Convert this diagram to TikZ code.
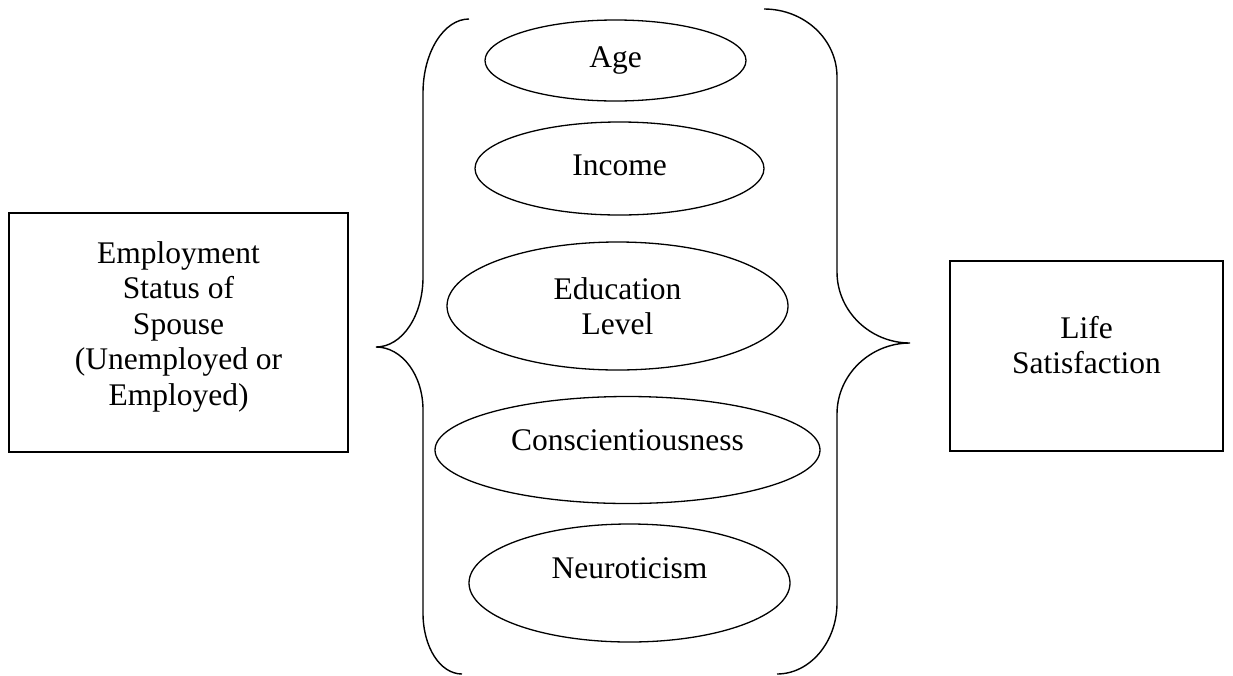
\documentclass[tikz,border=0pt]{standalone}
\usepackage{fontspec}
\setmainfont{Liberation Serif}
\usetikzlibrary{shapes.geometric}

\begin{document}
\begin{tikzpicture}[x=1pt,y=-1pt,
    factorEllipse/.style={draw, ellipse, line width=1.3pt, inner sep=0pt},
    varBox/.style={draw, rectangle, line width=1.6pt, inner sep=0pt},
    braceLine/.style={line width=1.4pt},
    labelText/.style={align=center, font=\fontsize{31.5}{35.5}\selectfont}]
      % Every length is in pixels of the figure, y grows downwards
      \def\braceL{423} \def\braceR{837}
      \def\tipL{376} \def\tipR{910}
      \useasboundingbox (0,0) rectangle (1233,675);

      % The two boxes
      \node[varBox, minimum width=339, minimum height=239] (status) at (178.5,332.5) {};
      \node[labelText] (statusText) at ([yshift=6pt]status.center)
        {Employment\\Status of\\Spouse\\(Unemployed or\\Employed)};
      \node[varBox, minimum width=273, minimum height=190] (satisfaction) at (1086.5,356) {};
      \node[labelText] (satisfactionText) at ([yshift=11pt]satisfaction.center)
        {Life\\Satisfaction};

      % The ellipses between the braces
      \node[factorEllipse, minimum width=261, minimum height=81] (age) at (615.5,60.5) {};
      \node[labelText] (ageText) at (age.center) {Age};
      \node[factorEllipse, minimum width=289, minimum height=93] (income) at (619.5,168.5) {};
      \node[labelText] (incomeText) at ([yshift=3pt]income.center) {Income};
      \node[factorEllipse, minimum width=341, minimum height=128] (education) at (617.5,306) {};
      \node[labelText] (educationText) at (education.center) {Education\\Level};
      \node[factorEllipse, minimum width=385, minimum height=107] (consc) at (627.5,450) {};
      \node[labelText] (conscText) at ([yshift=10pt]consc.center) {Conscientiousness};
      \node[factorEllipse, minimum width=321, minimum height=118] (neuro) at (629.5,583) {};
      \node[labelText] (neuroText) at ([yshift=15pt]neuro.center) {Neuroticism};

      % Left brace
      \draw[braceLine] (469,19) .. controls (444,19) and (\braceL,52) .. (\braceL,93)
        -- (\braceL,277) .. controls (\braceL,316) and (402,347) .. (\tipL,347)
        .. controls (402,347) and (\braceL,375) .. (\braceL,410)
        -- (\braceL,613) .. controls (\braceL,647) and (440,674) .. (462,674);

      % Right brace
      \draw[braceLine] (764,9) .. controls (804,9) and (\braceR,39) .. (\braceR,77)
        -- (\braceR,272) .. controls (\braceR,311) and (870,343) .. (\tipR,343)
        .. controls (870,343) and (\braceR,375) .. (\braceR,414)
        -- (\braceR,603) .. controls (\braceR,642) and (810,674) .. (777,674);
\end{tikzpicture}
\end{document}
